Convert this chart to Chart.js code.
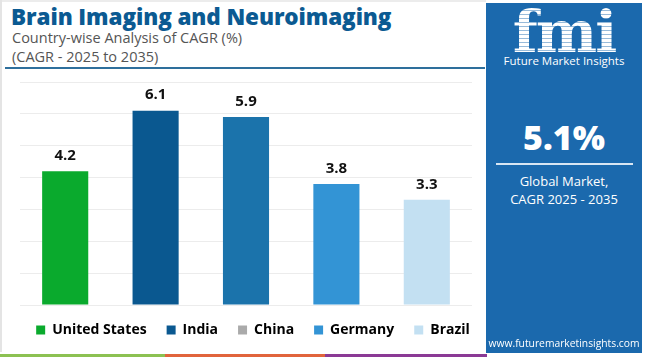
<!DOCTYPE html>
<html>
<head>
<meta charset="utf-8">
<script src="https://cdn.jsdelivr.net/npm/chart.js@4.4.1/dist/chart.umd.min.js"></script>
<style>
  html,body{margin:0;padding:0;background:#fff;}
  #wrap{position:relative;width:650px;height:357px;overflow:hidden;background:#fff;font-family:"Open Sans",sans-serif;}
  #lborder{position:absolute;left:0;top:0;width:2px;height:352px;background:#e4e4e4;}
  #tborder{position:absolute;left:0;top:0;width:486px;height:2px;background:#ececec;}
  #title{position:absolute;left:11px;top:1px;font-weight:800;font-size:22.5px;color:#0b5a92;white-space:nowrap;letter-spacing:-0.1px;}
  #sub1{position:absolute;left:12px;top:28px;font-size:14.5px;color:#555;white-space:nowrap;}
  #sub2{position:absolute;left:12px;top:47px;font-size:14.5px;color:#555;white-space:nowrap;}
  #sep{position:absolute;left:5px;top:67px;width:480px;height:2px;background:#2e6f9c;}
  #chartbox{position:absolute;left:0;top:72px;width:486px;height:287px;}
  #strip1{position:absolute;left:0;top:354px;width:165px;height:3px;background:#8cc152;}
  #strip2{position:absolute;left:165px;top:354px;width:160px;height:3px;background:#e1643c;}
  #strip3{position:absolute;left:325px;top:354px;width:162px;height:3px;background:#8b3a95;}
  #panel{position:absolute;left:486px;top:3px;width:156px;height:350px;background:#1b69ad;color:#fff;text-align:center;}
  #logo{position:absolute;left:0;top:0;width:156px;font-family:"DejaVu Serif",serif;font-weight:bold;font-size:58px;line-height:58px;letter-spacing:-2px;
        background:repeating-linear-gradient(180deg,#fff 0 3px,rgba(255,255,255,0.55) 3px 4px);-webkit-background-clip:text;background-clip:text;color:transparent;}
  #fmitext{position:absolute;left:0;top:50px;width:156px;font-size:11.5px;color:#fff;white-space:nowrap;}
  #big{position:absolute;left:0;top:114px;width:156px;font-weight:800;font-size:34px;line-height:40px;}
  #pline{position:absolute;left:10px;top:160px;width:137px;height:2px;background:#d8e6f3;}
  #g1{position:absolute;left:0;top:169px;width:156px;font-size:13px;line-height:18px;}
  #url{position:absolute;left:0;top:333px;width:156px;font-size:10.3px;white-space:nowrap;}
</style>
</head>
<body>
<div id="wrap">
  <div id="tborder"></div>
  <div id="lborder"></div>
  <div id="title">Brain Imaging and Neuroimaging</div>
  <div id="sub1">Country-wise Analysis of CAGR (%)</div>
  <div id="sub2">(CAGR - 2025 to 2035)</div>
  <div id="sep"></div>
  <div id="chartbox"><canvas id="c"></canvas></div>
  <div id="strip1"></div><div id="strip2"></div><div id="strip3"></div>
  <div id="panel">
    <div id="logo">fmi</div>
    <div id="fmitext">Future Market Insights</div>
    <div id="big">5.1%</div>
    <div id="pline"></div>
    <div id="g1">Global Market,<br>CAGR 2025 - 2035</div>
    <div id="url">www.futuremarketinsights.com</div>
  </div>
</div>
<script>
const categories = ["United States", "India", "China", "Germany", "Brazil"];
const cagrValues = [4.2, 6.1, 5.9, 3.8, 3.3];
const barColors = ["#0aaa2d", "#0a5890", "#1b73ab", "#3394d5", "#c3e0f2"];
const legendColors = ["#0aaa2d", "#0a5890", "#aaaaaa", "#3394d5", "#c3e0f2"];
const yTicks = [0, 1, 2, 3, 4, 5, 6, 7];

const valueLabels = {
  id: "valueLabels",
  afterDatasetsDraw(chart) {
    const ctx = chart.ctx;
    const meta = chart.getDatasetMeta(0);
    ctx.save();
    ctx.font = "bold 15px 'Open Sans', sans-serif";
    ctx.fillStyle = "#111";
    ctx.textAlign = "center";
    ctx.textBaseline = "bottom";
    meta.data.forEach((bar, i) => {
      ctx.fillText(cagrValues[i].toFixed(1), bar.x, bar.y - 8);
    });
    ctx.restore();
  }
};

// nudge the legend block closer to the plot (keeps item spacing)
const legendShift = {
  id: "legendShift",
  afterLayout(chart) {
    const lg = chart.legend;
    if (!lg) return;
    lg.top -= 10; lg.bottom -= 10;
    lg.left += 10; lg.right += 10;
  }
};

new Chart(document.getElementById("c"), {
  type: "bar",
  data: {
    labels: categories,
    datasets: [{
      data: cagrValues,
      backgroundColor: barColors,
      borderWidth: 0,
      categoryPercentage: 1,
      barPercentage: 0.51
    }]
  },
  options: {
    responsive: true,
    maintainAspectRatio: false,
    animation: false,
    devicePixelRatio: 1,
    layout: { padding: { left: 0, right: 0, top: 10, bottom: 2 } },
    plugins: {
      tooltip: { enabled: false },
      legend: {
        display: true,
        position: "bottom",
        labels: {
          boxWidth: 9,
          boxHeight: 9,
          padding: 20,
          color: "#111",
          font: { family: "'Open Sans', sans-serif", size: 14, weight: "bold" },
          generateLabels() {
            return categories.map((c, i) => ({
              text: c,
              fillStyle: legendColors[i],
              strokeStyle: legendColors[i],
              lineWidth: 0,
              hidden: false,
              index: i
            }));
          }
        },
        onClick() {}
      }
    },
    scales: {
      x: {
        grid: { display: false },
        ticks: { display: false },
        border: { display: false }
      },
      y: {
        min: 0,
        max: 7,
        afterBuildTicks(axis) { axis.ticks = yTicks.map(v => ({ value: v })); },
        afterFit(axis) { axis.width = 20; },
        grid: { color: "#ececec", drawTicks: false, lineWidth: 1 },
        ticks: { display: false },
        border: { display: false }
      },
      yRight: {
        position: "right",
        min: 0,
        max: 7,
        afterFit(axis) { axis.width = 14; },
        grid: { display: false, drawTicks: false },
        ticks: { display: false },
        border: { display: false }
      }
    }
  },
  plugins: [valueLabels, legendShift]
});
</script>
</body>
</html>
